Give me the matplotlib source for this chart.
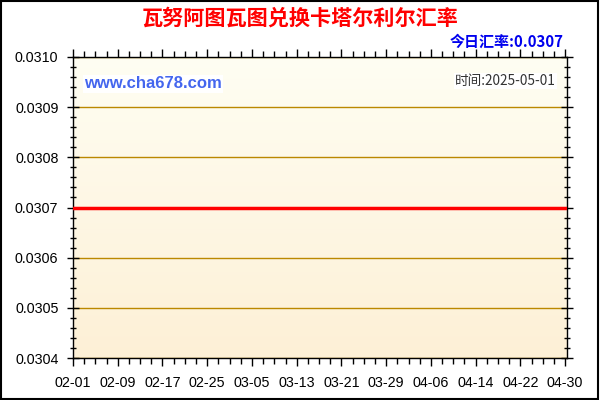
import numpy as np
import pandas as pd
import matplotlib
matplotlib.use('Agg')
from matplotlib import pyplot as plt
from matplotlib.colors import LinearSegmentedColormap

plt.rcParams['font.family'] = ['Liberation Sans', 'Noto Sans CJK SC', 'DejaVu Sans']

# 数据
dates = pd.date_range('2025-02-01', '2025-04-30', freq='D')
rates = [0.0307] * len(dates)
title = '瓦努阿图瓦图兑换卡塔尔利尔汇率'
today_rate = '今日汇率:0.0307'
site = 'www.cha678.com'
time_text = '时间:2025-05-01'
y_ticks = [0.0304, 0.0305, 0.0306, 0.0307, 0.0308, 0.0309, 0.0310]

fig = plt.figure(figsize=(6, 4), dpi=100)
fig.patch.set_facecolor('white')
ax = fig.add_axes([73 / 600, 1 - 358 / 400, 494 / 600, 301 / 400])

# 渐变背景
cmap = LinearSegmentedColormap.from_list('bg', ['#FFFEF3', '#FDF0D6'])
grad = np.linspace(0, 1, 256).reshape(-1, 1)
ax.imshow(grad, cmap=cmap, aspect='auto', extent=[0, 1, 0, 1],
          transform=ax.transAxes, zorder=0)

for v in y_ticks:
    ax.axhline(v, color='#BB8800', lw=1, zorder=1)

ax.plot(dates, rates, color='#FF0000', lw=2.5, zorder=3)

ax.set_xlim(dates[0], dates[-1] + pd.Timedelta(hours=8))
ax.set_ylim(0.0304, 0.0310)
ax.set_yticks(y_ticks)
ax.yaxis.set_major_formatter(plt.FormatStrFormatter('%.4f'))
ax.yaxis.set_minor_locator(plt.MultipleLocator(0.00002))

major_days = dates[::8]
ax.set_xticks(major_days)
ax.set_xticklabels([d.strftime('%m-%d') for d in major_days])
ax.set_xticks(dates[::2], minor=True)

ax.tick_params(axis='both', which='major', direction='inout', length=9, width=1,
               labelsize=10.3, colors='black', right=True, top=True)
ax.tick_params(axis='both', which='minor', direction='inout', length=5, width=1,
               right=True, top=True)
ax.tick_params(axis='x', which='major', direction='out', length=6, pad=7)
ax.tick_params(axis='x', which='minor', direction='out', length=4)
ax.tick_params(axis='x', which='both', top=True, labeltop=False)
ax.tick_params(axis='y', which='major', pad=6)
for s in ax.spines.values():
    s.set_color('black')
    s.set_linewidth(1)

# 文字
cjk = ['Noto Sans CJK SC', 'DejaVu Sans']
fig.text(0.5, 1 - 18 / 400, title, ha='center', va='center', color='#FF0000',
         fontsize=15.2, fontweight='bold', family=cjk)
fig.text(564 / 600, 1 - 42 / 400, today_rate, ha='right', va='center', color='#0000EE',
         fontsize=10.8, fontweight='bold', family=cjk)
fig.text(84 / 600, 1 - 84 / 400, site, ha='left', va='center', color='#4466EE',
         fontsize=12, fontweight='bold', family=['Liberation Sans', 'DejaVu Sans'],
         bbox=dict(facecolor='white', edgecolor='none', pad=1))
fig.text(556 / 600, 1 - 81 / 400, time_text, ha='right', va='center', color='#333333',
         fontsize=9.8, family=cjk,
         bbox=dict(facecolor='white', edgecolor='none', pad=1))

# 外框
fig.add_artist(plt.Rectangle((0.002, 0.003), 0.995, 0.994, transform=fig.transFigure,
                             fill=False, edgecolor='black', lw=1.5))

fig.savefig('out.png', dpi=100)
